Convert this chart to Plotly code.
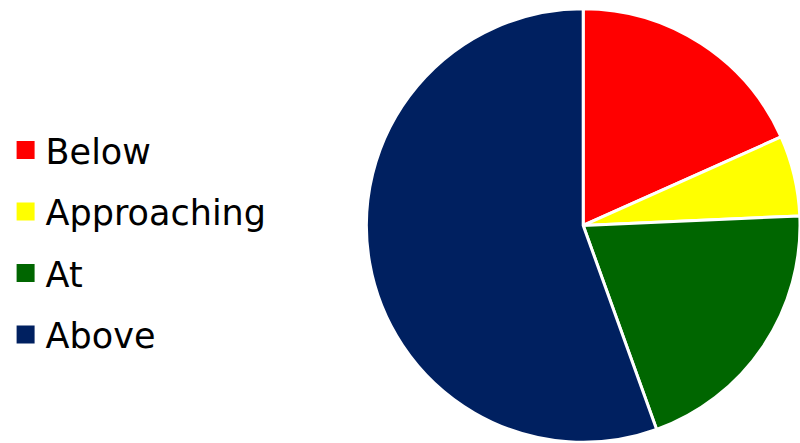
import plotly.graph_objects as go

categories = ["Below", "Approaching", "At", "Above"]
values = [18.3, 6.0, 20.2, 55.5]
colors = ["#FF0000", "#FFFF00", "#006600", "#002060"]

fig = go.Figure()
fig.add_trace(go.Pie(
    labels=categories, values=values, sort=False, direction="clockwise", rotation=0,
    marker=dict(colors=colors, line=dict(color="white", width=3)),
    textinfo="none", hoverinfo="label+percent", showlegend=False,
    domain=dict(x=[0.458, 1.0], y=[0.0, 0.982]),
))
for c, col in zip(categories, colors):
    fig.add_trace(go.Scatter(
        x=[None], y=[None], mode="markers", name=c, legendgroup=c,
        marker=dict(symbol="square", size=16, color=col, line=dict(color=col, width=2)),
    ))

fig.update_layout(
    width=800, height=443, margin=dict(l=0, r=0, t=0, b=0),
    paper_bgcolor="white", plot_bgcolor="white",
    xaxis=dict(visible=False), yaxis=dict(visible=False),
    legend=dict(x=0.007, xanchor="left", y=0.453, yanchor="middle",
                font=dict(family="DejaVu Sans", size=35, color="black"),
                tracegroupgap=13),
)
fig.write_html("out.html", config={"displayModeBar": False},
               post_script="document.body.style.margin='0';")
